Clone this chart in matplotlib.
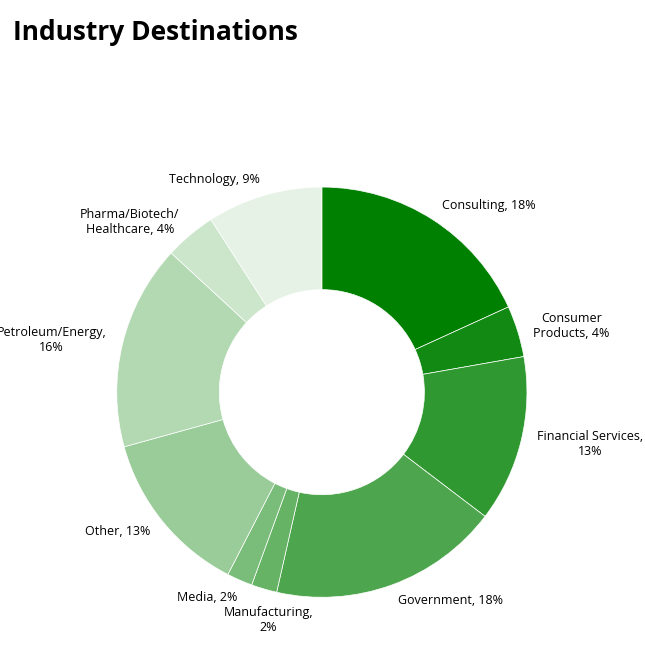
import matplotlib.pyplot as plt
from matplotlib.colors import to_rgb

plt.rcParams['font.family'] = ['Open Sans', 'DejaVu Sans']

industries = ["Consulting, 18%", "Consumer\nProducts, 4%", "Financial Services,\n13%",
              "Government, 18%", "Manufacturing,\n2%", "Media, 2%", "Other, 13%",
              "Petroleum/Energy,\n16%", "Pharma/Biotech/\nHealthcare, 4%", "Technology, 9%"]
shares = [18, 4, 13, 18, 2, 2, 13, 16, 4, 9]
alphas = [1.0, 0.93, 0.81, 0.7, 0.6, 0.52, 0.4, 0.3, 0.2, 0.1]

base = to_rgb("#008000")
colors = [tuple(a * c + (1 - a) for c in base) for a in alphas]

fig = plt.figure(figsize=(6.45, 6.45), dpi=100)
fig.text(0.02, 0.95, "Industry Destinations", fontsize=19, fontweight="bold", va="center")

ax = fig.add_axes([0.181, 0.074, 0.636, 0.636])
wedges, texts = ax.pie(shares, labels=industries, colors=colors, startangle=90,
                       counterclock=False, labeldistance=1.08,
                       wedgeprops=dict(width=0.5, edgecolor="white", linewidth=0.5),
                       textprops=dict(fontsize=9))
for t in texts:
    t.set_multialignment("center")

# small slices at the bottom: move labels apart
texts[4].set_position((-0.26, -1.11))
texts[4].set_ha("center")
texts[4].set_va("center")
texts[5].set_position((-0.41, -1.0))
texts[5].set_ha("right")
texts[5].set_va("center")

ax.set_xlim(-1, 1)
ax.set_ylim(-1, 1)
ax.set_aspect("equal")

plt.savefig("out.png", dpi=100)
